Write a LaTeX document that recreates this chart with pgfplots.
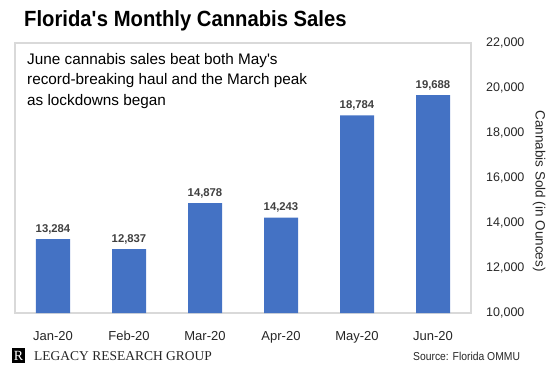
\documentclass[border=0pt]{standalone}
\usepackage{fontspec}
\setmainfont{Liberation Sans}
\newfontfamily\titlefont[FakeStretch=0.92]{Liberation Sans}
\newfontfamily\srcfont[FakeStretch=0.9]{Liberation Sans}
\newfontfamily\seriffont{Liberation Serif}
\usepackage{pgfplots}
\pgfplotsset{compat=1.18}
\definecolor{barblue}{HTML}{4472C4}
\definecolor{valgray}{HTML}{404040}
\definecolor{txtgray}{HTML}{262626}
\definecolor{framegray}{HTML}{D9D9D9}
\begin{document}
\begin{tikzpicture}
\useasboundingbox (0,0) rectangle (560pt,-372pt);
\begin{axis}[
  at={(15pt,-313pt)}, anchor=south west,
  scale only axis, width=456pt, height=270pt,
  xmin=-0.5, xmax=5.5, ymin=10000, ymax=22000,
  ybar, bar width=34pt,
  axis line style={draw=framegray, line width=1.2pt},
  major tick length=0pt,
  xtick={0,1,2,3,4,5},
  xticklabels={Jan-20,Feb-20,Mar-20,Apr-20,May-20,Jun-20},
  xticklabel style={anchor=base, inner sep=0pt, yshift=-27pt, font=\fontsize{13}{15}\selectfont, text=txtgray},
  ytick={10000,12000,14000,16000,18000,20000,22000},
  yticklabel pos=right,
  yticklabel style={anchor=west, inner sep=0pt, xshift=15pt, font=\fontsize{12.5}{15}\selectfont, text=txtgray},
  scaled y ticks=false,
  /pgf/number format/.cd, 1000 sep={,}, fixed, precision=0, assume math mode=true,
  /pgfplots/.cd,
  nodes near coords,
  every node near coord/.append style={anchor=base, inner sep=0pt, yshift=7pt, font=\bfseries\fontsize{11.3}{13}\selectfont, text=valgray},
]
\addplot[fill=barblue, draw=none] coordinates {(0,13284) (1,12837) (2,14878) (3,14243) (4,18784) (5,19688)};
\end{axis}
\node[anchor=base west, inner sep=0pt] at (24pt,-26pt) {\titlefont\bfseries\fontsize{22}{26}\selectfont Florida\textquotesingle s Monthly Cannabis Sales};
\node[anchor=north west, inner sep=0pt, align=left, font=\fontsize{15.3}{20.5}\selectfont] at (27pt,-53pt) {June cannabis sales beat both May\textquotesingle s\\record-breaking haul and the March peak\\as lockdowns began};
\node[rotate=-90, inner sep=0pt, font=\fontsize{13.5}{16}\selectfont, text=txtgray] at (539pt,-191pt) {Cannabis Sold (in Ounces)};
\fill[black] (12pt,-348pt) rectangle (25pt,-363pt);
\node[inner sep=0pt, text=white, font=\seriffont\fontsize{14}{16}\selectfont] at (18.5pt,-355.5pt) {R};
\node[anchor=base west, inner sep=0pt, font=\seriffont\fontsize{13.5}{16}\selectfont, text=txtgray] at (34pt,-360pt) {LEGACY RESEARCH GROUP};
\node[anchor=base west, inner sep=0pt, font=\srcfont\fontsize{11.5}{14}\selectfont, text=txtgray] at (413pt,-360pt) {Source: Florida OMMU};
\end{tikzpicture}
\end{document}
